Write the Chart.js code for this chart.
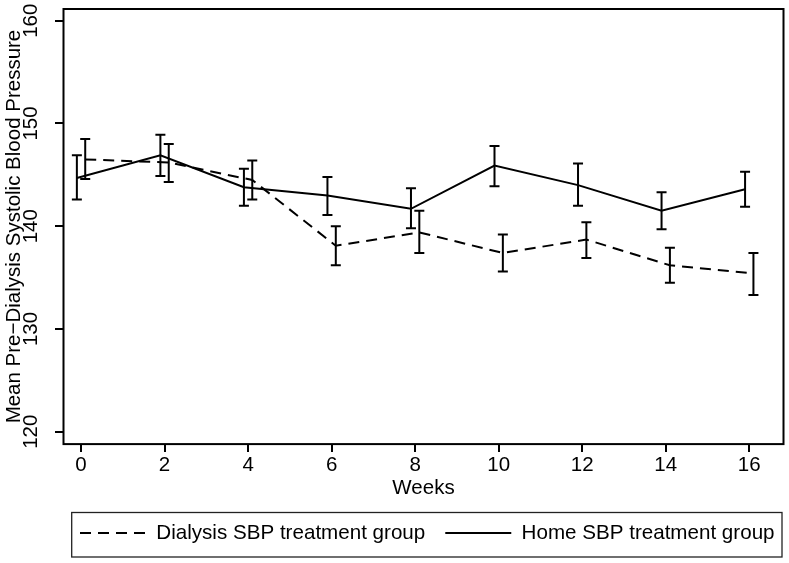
<!DOCTYPE html>
<html>
<head>
<meta charset="utf-8">
<script src="https://cdn.jsdelivr.net/npm/chart.js@4/dist/chart.umd.min.js"></script>
<style>
  html, body { margin: 0; padding: 0; background: #ffffff; }
  #c { display: block; }
</style>
</head>
<body>
<canvas id="c" width="789" height="563"></canvas>
<script>
// ---- data ----
const weeks = [0, 2, 4, 6, 8, 10, 12, 14, 16];
const dialysisMean = [146.5, 146.2, 144.5, 138.1, 139.4, 137.4, 138.7, 136.2, 135.4];
const dialysisLow  = [144.6, 144.3, 142.6, 136.2, 137.4, 135.6, 136.9, 134.5, 133.3];
const dialysisHigh = [148.5, 148.0, 146.4, 140.0, 141.5, 139.2, 140.4, 137.9, 137.4];
const homeMean = [144.7, 146.9, 143.8, 143.0, 141.7, 145.9, 144.0, 141.5, 143.6];
const homeLow  = [142.6, 144.9, 142.0, 141.1, 139.8, 143.9, 142.0, 139.7, 141.9];
const homeHigh = [146.9, 148.9, 145.6, 144.8, 143.7, 147.8, 146.1, 143.3, 145.3];
const xTicks = [0, 2, 4, 6, 8, 10, 12, 14, 16];
const yTicks = [120, 130, 140, 150, 160];
const seriesNames = ['Dialysis SBP treatment group', 'Home SBP treatment group'];
const xTitle = 'Weeks';
const yTitle = 'Mean Pre\u2212Dialysis Systolic Blood Pressure';

// ---- style constants ----
const JITTER = 0.1;          // horizontal dodge of the two groups (weeks)
const FONT = { family: '"Liberation Sans", Arial, sans-serif', size: 20.5 };
const LEGEND_FONT = { family: '"Liberation Sans", Arial, sans-serif', size: 20.6 };
const DASH = [11, 7];

Chart.defaults.color = '#000';
Chart.defaults.font.family = FONT.family;
Chart.defaults.font.size = FONT.size;

const errorBarPlugin = {
  id: 'errorBars',
  afterDatasetsDraw(chart) {
    const ctx = chart.ctx, xs = chart.scales.x, ys = chart.scales.y;
    ctx.save();
    ctx.strokeStyle = '#000';
    ctx.lineWidth = 2;
    ctx.setLineDash([]);
    chart.data.datasets.forEach(ds => {
      ds.data.forEach((p, i) => {
        const px = xs.getPixelForValue(p.x);
        const lo = ys.getPixelForValue(ds.lo[i]);
        const hi = ys.getPixelForValue(ds.hi[i]);
        ctx.beginPath();
        ctx.moveTo(px, lo); ctx.lineTo(px, hi);
        ctx.moveTo(px - 5, lo); ctx.lineTo(px + 5, lo);
        ctx.moveTo(px - 5, hi); ctx.lineTo(px + 5, hi);
        ctx.stroke();
      });
    });
    ctx.restore();
  }
};

const framePlugin = {
  id: 'frame',
  afterLayout(chart) {
    const lg = chart.legend;
    if (lg && lg.lineWidths) {
      const pad = lg.options.labels.padding;
      const firstLeft = (lg.left + pad + lg.right - lg.lineWidths[0]) / 2;
      const shift = 80 - firstLeft;
      lg.left += shift; lg.right += shift;
    }
  },
  afterDraw(chart) {
    const ctx = chart.ctx, a = chart.chartArea;
    ctx.save();
    ctx.setLineDash([]);
    ctx.strokeStyle = '#000';
    ctx.lineWidth = 2;
    ctx.strokeRect(a.left, a.top, a.right - a.left, a.bottom - a.top);
    const hb = chart.legend.legendHitBoxes;
    if (hb && hb.length) {
      const cy = hb[0].top + hb[0].height / 2;
      const l = hb[0].left - 8.3;
      const r = a.right - 1.5;
      ctx.lineWidth = 1.3;
      ctx.strokeStyle = '#222';
      ctx.strokeRect(l, cy - 20.5, r - l, 44.5);
    }
    ctx.restore();
  }
};

new Chart(document.getElementById('c'), {
  type: 'line',
  data: {
    datasets: [
      {
        label: seriesNames[0],
        data: weeks.map((w, i) => ({ x: w + JITTER, y: dialysisMean[i] })),
        lo: dialysisLow, hi: dialysisHigh,
        borderColor: '#000', borderWidth: 2, borderDash: DASH,
        pointRadius: 0, tension: 0, fill: false
      },
      {
        label: seriesNames[1],
        data: weeks.map((w, i) => ({ x: w - JITTER, y: homeMean[i] })),
        lo: homeLow, hi: homeHigh,
        borderColor: '#000', borderWidth: 2,
        pointRadius: 0, tension: 0, fill: false
      }
    ]
  },
  options: {
    responsive: false,
    animation: false,
    layout: { padding: { top: 9, right: 5.5, bottom: 9.7, left: 0 } },
    plugins: {
      tooltip: { enabled: false },
      legend: {
        position: 'bottom',
        align: 'center',
        labels: {
          usePointStyle: true,
          pointStyle: 'line',
          pointStyleWidth: 66,
          padding: 20,
          color: '#000',
          font: LEGEND_FONT,
          generateLabels(chart) {
            const items = Chart.defaults.plugins.legend.labels.generateLabels(chart);
            items.forEach(it => {
              const ds = chart.data.datasets[it.datasetIndex];
              it.lineDash = ds.borderDash || [];
              it.lineWidth = ds.borderWidth;
              it.strokeStyle = ds.borderColor;
              it.pointStyle = 'line';
            });
            return items;
          }
        }
      }
    },
    scales: {
      x: {
        type: 'linear',
        min: -0.42, max: 16.82,
        afterBuildTicks: s => { s.ticks = xTicks.map(v => ({ value: v })); },
        afterFit: s => { s.height = 58.6; s.paddingLeft = 0; s.paddingRight = 0; },
        grid: { display: true, drawOnChartArea: false, drawTicks: true, tickLength: 8, color: '#000', lineWidth: 2 },
        border: { display: false },
        ticks: { color: '#000', font: FONT, padding: 1, maxRotation: 0, autoSkip: false },
        title: { display: true, text: xTitle, color: '#000', font: FONT, padding: { top: 0, bottom: 2 } }
      },
      y: {
        type: 'linear',
        min: 118.8, max: 161.14,
        afterBuildTicks: s => { s.ticks = yTicks.map(v => ({ value: v })); },
        afterFit: s => { s.width = 63.5; s.paddingTop = 0; s.paddingBottom = 0; },
        grid: { display: true, drawOnChartArea: false, drawTicks: true, tickLength: 8.5, color: '#000', lineWidth: 2 },
        border: { display: false },
        ticks: { color: '#000', font: FONT, padding: 7, minRotation: 90, maxRotation: 90, crossAlign: 'center', autoSkip: false },
        title: { display: true, text: yTitle, color: '#000', font: FONT, padding: { top: 2, bottom: 0 } }
      }
    }
  },
  plugins: [errorBarPlugin, framePlugin]
});
</script>
</body>
</html>
